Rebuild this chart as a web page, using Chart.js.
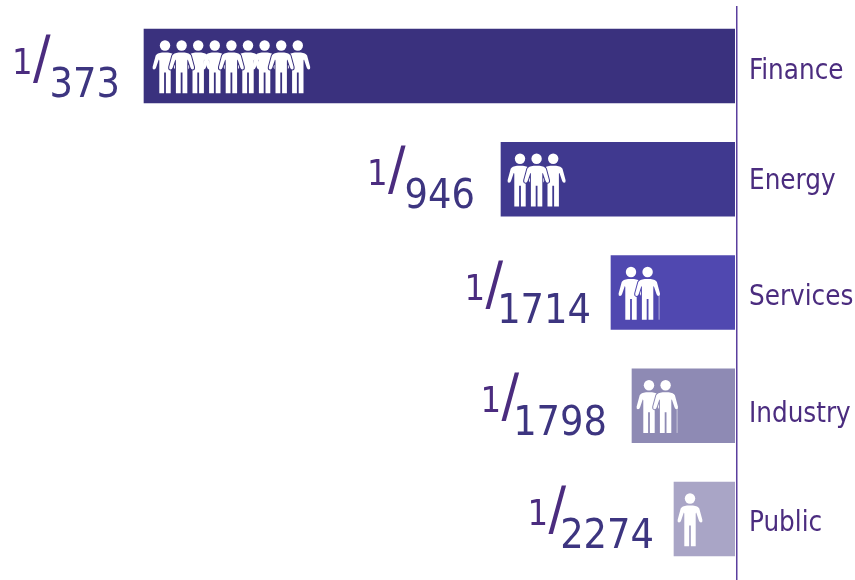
<!DOCTYPE html>
<html>
<head>
<meta charset="utf-8">
<style>
html,body{margin:0;padding:0;background:#fff;}
#wrap{position:relative;width:855px;height:580px;}
canvas{display:block;}
</style>
<script src="https://cdn.jsdelivr.net/npm/chart.js@4"></script>
</head>
<body>
<div id="wrap"><canvas id="c" width="855" height="580"></canvas></div>
<script>
const categories = ["Finance", "Energy", "Services", "Industry", "Public"];
const barValues = [591, 234, 124, 103, 61];
const numerators = ["1", "1", "1", "1", "1"];
const denominators = ["373", "946", "1714", "1798", "2274"];
const peopleCounts = [9, 3, 2, 2, 1];
const barColors = ["#3A317E", "#40398F", "#5048B0", "#8E8AB4", "#A9A5C6"];

const LABEL_FONT = '"DejaVu Sans Condensed","DejaVu Sans",sans-serif';
const iconInset = [21, 19, 20, 17, 16];
const denomGap = [24, 26, 20, 25, 20];
const denomDrop = [31, 29, 30, 29, 29];
const fractionShift = [0, 0, 5, 5, 5];
const labelNudge = [0, -3, -1, 3, -1];
const caneRows = [2, 3];

function personPath(ctx) {
  ctx.beginPath();
  ctx.moveTo(-3, 7);
  ctx.lineTo(3, 7);
  ctx.quadraticCurveTo(8, 7.6, 9.3, 10);
  ctx.lineTo(12.4, 21.5);
  ctx.quadraticCurveTo(12.7, 24, 11, 24);
  ctx.quadraticCurveTo(9.5, 24, 8.9, 22);
  ctx.lineTo(6.2, 14);
  ctx.lineTo(5.7, 15);
  ctx.lineTo(5.7, 47.7);
  ctx.lineTo(0.9, 47.7);
  ctx.lineTo(0.9, 27);
  ctx.lineTo(-0.9, 27);
  ctx.lineTo(-0.9, 47.7);
  ctx.lineTo(-5.7, 47.7);
  ctx.lineTo(-5.7, 15);
  ctx.lineTo(-6.2, 14);
  ctx.lineTo(-8.9, 22);
  ctx.quadraticCurveTo(-9.5, 24, -11, 24);
  ctx.quadraticCurveTo(-12.7, 24, -12.4, 21.5);
  ctx.lineTo(-9.3, 10);
  ctx.quadraticCurveTo(-8, 7.6, -3, 7);
  ctx.closePath();
}

function drawPerson(ctx, x, y, outline) {
  ctx.save();
  ctx.translate(x, y);
  ctx.fillStyle = "#FFFFFF";
  ctx.beginPath();
  ctx.arc(0, 0, 5.2, 0, Math.PI * 2);
  ctx.fill();
  personPath(ctx);
  if (outline) {
    ctx.strokeStyle = outline;
    ctx.lineWidth = 2;
    ctx.lineJoin = "round";
    ctx.stroke();
  }
  ctx.fill();
  ctx.restore();
}

const overlay = {
  id: "overlay",
  beforeDraw(chart) {
    chart.scales.y.getLabelItems().forEach((item, i) => {
      if (!item.nudged) {
        item.options.translation[1] += labelNudge[i];
        item.nudged = true;
      }
    });
  },
  afterDatasetsDraw(chart) {
    const { ctx, scales: { x, y } } = chart;
    ctx.save();
    ctx.strokeStyle = "#5B3F9E";
    ctx.lineWidth = 1.5;
    ctx.beginPath();
    const ax = x.getPixelForValue(0) + 1.75;
    ctx.moveTo(ax, 6);
    ctx.lineTo(ax, 580);
    ctx.stroke();

    categories.forEach((cat, i) => {
      const cy = y.getPixelForValue(i);
      const left = x.getPixelForValue(barValues[i]);
      const n = peopleCounts[i];
      const headY = cy - 20.5;
      for (let k = 0; k < n; k++) {
        if (k % 3 !== 1) drawPerson(ctx, left + iconInset[i] + k * 16.6, headY, null);
      }
      for (let k = 0; k < n; k++) {
        if (k % 3 === 1) drawPerson(ctx, left + iconInset[i] + k * 16.6, headY, barColors[i]);
      }
      if (caneRows.includes(i)) {
        const cx = left + iconInset[i] + (n - 1) * 16.6 + 11.5;
        ctx.strokeStyle = "rgba(255,255,255,0.55)";
        ctx.lineWidth = 1;
        ctx.beginPath();
        ctx.moveTo(cx, headY + 24);
        ctx.lineTo(cx, headY + 47.7);
        ctx.stroke();
      }
      ctx.textBaseline = "alphabetic";
      ctx.textAlign = "right";
      ctx.fillStyle = "#3D3580";
      ctx.font = "41px " + LABEL_FONT;
      const right = left - denomGap[i];
      const base = cy + denomDrop[i];
      ctx.fillText(denominators[i], right, base);
      const w = ctx.measureText(denominators[i]).width;
      ctx.fillStyle = "#4B2C7F";
      ctx.font = "58px " + LABEL_FONT;
      ctx.fillText("/", right - w + 1 + fractionShift[i], base - 19);
      ctx.font = "36px " + LABEL_FONT;
      ctx.fillText(numerators[i], right - w - 17 + fractionShift[i], base - 23);
    });
    ctx.restore();
  }
};

new Chart(document.getElementById("c"), {
  type: "bar",
  data: {
    labels: categories,
    datasets: [{
      data: barValues,
      backgroundColor: barColors,
      borderWidth: 0,
      barThickness: 74
    }]
  },
  options: {
    indexAxis: "y",
    responsive: false,
    animation: false,
    layout: { autoPadding: false, padding: { top: 9.4, bottom: 4.4, left: 0, right: 0 } },
    plugins: { legend: { display: false }, tooltip: { enabled: false } },
    scales: {
      x: {
        reverse: true,
        min: 0,
        max: 735,
        display: false
      },
      y: {
        position: "right",
        afterFit(s) { s.width = 120; s.paddingTop = 0; s.paddingBottom = 0; },
        grid: { display: false },
        border: { display: false },
        ticks: {
          color: "#4B2C7F",
          font: { family: LABEL_FONT, size: 27.5 },
          padding: 6,
          labelOffset: 6,
          autoSkip: false
        }
      }
    }
  },
  plugins: [overlay]
});
</script>
</body>
</html>
